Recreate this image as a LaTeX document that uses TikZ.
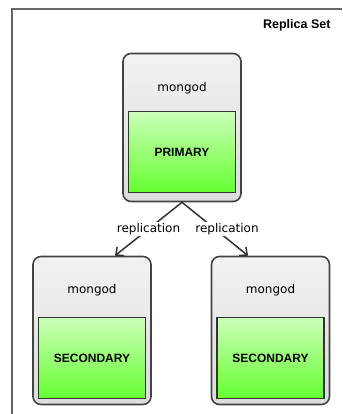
\documentclass[tikz,border=0pt]{standalone}
\usepackage{fontspec}
\setmainfont{DejaVu Sans}
\newfontfamily\boldsans{Liberation Sans}
\usetikzlibrary{arrows.meta,positioning,shadings}

\definecolor{framegray}{HTML}{666666}
\definecolor{boxedge}{HTML}{444444}
\definecolor{boxtop}{HTML}{F2F2F2}
\definecolor{boxbottom}{HTML}{DCDCDC}
\definecolor{greentop}{HTML}{CCFFB8}
\definecolor{greenbottom}{HTML}{66FF33}

\begin{document}
\begin{tikzpicture}[
    x=1pt, y=-1pt,
    font=\fontsize{12}{14}\selectfont,
    mongod/.style={
		rectangle,
		rounded corners=8pt,
		draw=boxedge,
		line width=1.6pt,
		minimum width=118pt,
		minimum height=148pt,
		top color=boxtop,
		bottom color=boxbottom
	},
	member/.style={
		rectangle,
		draw=black!80,
		line width=1.4pt,
		minimum width=107pt,
		minimum height=81pt,
		top color=greentop,
		bottom color=greenbottom,
		font=\boldsans\bfseries\fontsize{12}{14}\selectfont,
		anchor=south
	},
	link/.style={
		draw=black!80,
		line width=1.5pt,
		-{Straight Barb[length=6pt,width=11pt]}
	},
	label/.style={
		fill=white,
		inner sep=1.5pt
	}
  ]
  \useasboundingbox (0,0) rectangle (342,414);

  % frame of the set, cut by the page on the right and below
  \draw [framegray, line width=1.3pt] (12,414) -- (12,9) -- (342,9);
  \node [anchor=east, font=\boldsans\bfseries\fontsize{12.5}{14}\selectfont] (setname) at (334,25) {Replica Set};

  % the three servers
  \node [mongod] (prim) at (182,127.5) {};
  \node [mongod] (secl) at (92,330.5) {};
  \node [mongod] (secr) at (270.5,330.5) {};

  \node [member] (primary) at ([yshift=9pt]prim.south) {PRIMARY};
  \node [member] (secondl) at ([yshift=6pt]secl.south) {SECONDARY};
  \node [member] (secondr) at ([yshift=6pt]secr.south) {SECONDARY};

  \node [below=26pt of prim.north] (primname) {mongod};
  \node [below=25pt of secl.north] (seclname) {mongod};
  \node [below=25pt of secr.north] (secrname) {mongod};

  % replication arrows
  \draw [link] (prim.south) -- node [label] {replication} ([xshift=23pt]secl.north);
  \draw [link] (prim.south) -- node [label, xshift=12pt] {replication} ([xshift=-22.5pt]secr.north);

\end{tikzpicture}
\end{document}
